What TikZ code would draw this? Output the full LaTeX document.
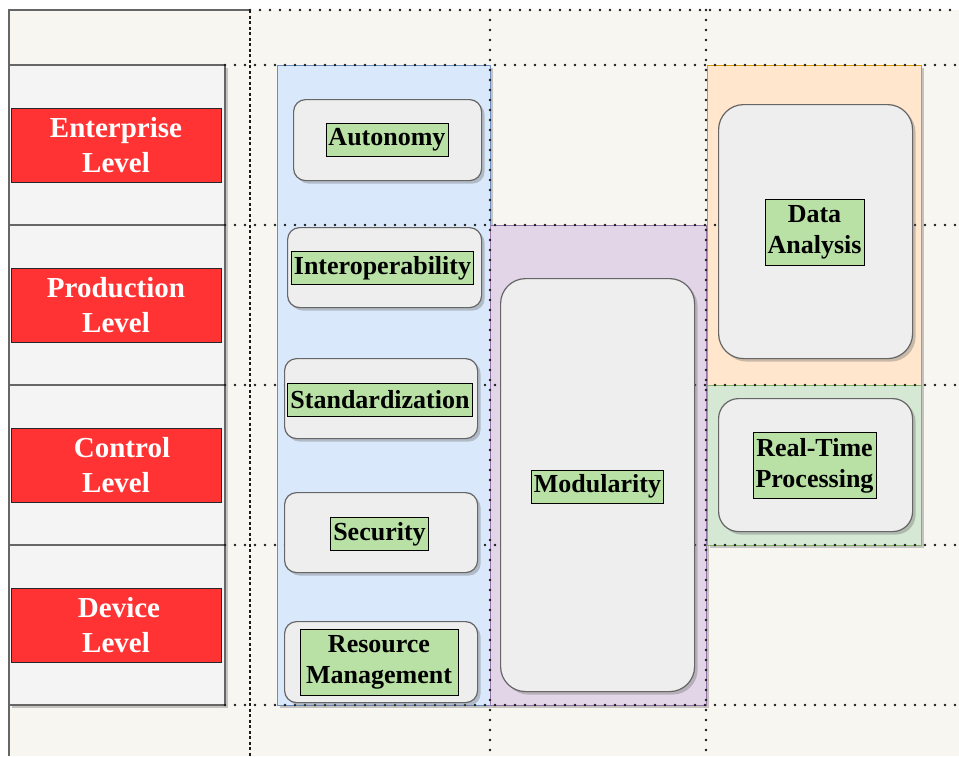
\documentclass[tikz,border=0pt]{standalone}
\usepackage{fontspec}
\setmainfont{Liberation Serif}
\usetikzlibrary{shadows}

\definecolor{cream}{HTML}{F8F6F0}
\definecolor{lanefill}{HTML}{F4F4F4}
\definecolor{lanedraw}{HTML}{666666}
\definecolor{lvlred}{HTML}{FF3333}
\definecolor{bluefill}{HTML}{DAE8FC}
\definecolor{bluedraw}{HTML}{6C8EBF}
\definecolor{purpfill}{HTML}{E1D5E7}
\definecolor{purpdraw}{HTML}{9673A6}
\definecolor{orfill}{HTML}{FFE6CC}
\definecolor{ordraw}{HTML}{D79B00}
\definecolor{grfill}{HTML}{D5E8D4}
\definecolor{grdraw}{HTML}{82B366}
\definecolor{boxfill}{HTML}{EEEEEE}
\definecolor{labfill}{HTML}{B9E0A5}
\definecolor{dotcol}{HTML}{1A1A1A}

\tikzset{
  shade3/.style={drop shadow={shadow xshift=3pt, shadow yshift=-3pt, opacity=0.35, fill=black!60}},
  lane/.style={shade3, fill=lanefill, draw=lanedraw, line width=1.2pt},
  region/.style={shade3, line width=1pt},
  gridline/.style={dotcol, line width=2.8pt, line cap=round, dash pattern=on 0pt off 10pt},
  dashline/.style={dotcol, line width=1.6pt, dash pattern=on 3pt off 2.5pt},
  lvl/.style={fill=lvlred, draw=black!85, line width=1pt, text=white, align=center,
              minimum width=210, minimum height=74,
              font=\fontsize{29}{35}\selectfont\bfseries},
  rbox/.style={shade3, fill=boxfill, draw=lanedraw, line width=1.2pt, anchor=north west},
  lab/.style={fill=labfill, draw=black, line width=0.9pt, align=center,
              inner xsep=2.5pt, inner ysep=2pt, minimum height=33,
              font=\fontsize{26}{31}\selectfont\bfseries},
  lab2/.style={lab, minimum height=66}
}

\begin{document}
\begin{tikzpicture}[x=1pt,y=-1pt]
\useasboundingbox (0,0) rectangle (959,756);
\fill[white] (0,0) rectangle (959,756);
\fill[cream] (9,10) rectangle (959,756);

% outer frame of the lanes
\draw[lanedraw, line width=1.6pt] (9,756) -- (9,10) -- (250,10);

% level lanes
\foreach \t in {65,225,385,545}{
  \path[lane] (9,\t) rectangle (225,\t+160);
}

% coloured groups
\path[region, fill=bluefill, draw=bluedraw] (277,65) rectangle (490,705);
\path[region, fill=purpfill, draw=purpdraw] (490,225) rectangle (706,705);
\path[region, fill=orfill, draw=ordraw] (707,65) rectangle (921,385);
\path[region, fill=grfill, draw=grdraw] (707,385) rectangle (921,545);

% grid lines
\draw[gridline] (250,10) -- (959,10);
\foreach \y in {65,225,385,545,705}{
  \draw[gridline] (225,\y) -- (959,\y);
}
\draw[gridline] (490,10) -- (490,756);
\draw[gridline] (706,10) -- (706,756);
\draw[dashline] (250,10) -- (250,756);

% level labels
\node[lvl] (ent) at (116,145) {Enterprise\\Level};
\node[lvl] (prod) at (116,305) {Production\\Level};
\node[lvl] (ctrl) at (116,465) {\hspace*{12pt}Control\\Level};
\node[lvl] (dev) at (116,625) {\hspace*{6pt}Device\\Level};

% capability boxes
\node[rbox, rounded corners=12pt, minimum width=188, minimum height=81] (b1) at (293,99) {};
\node[rbox, rounded corners=12pt, minimum width=194, minimum height=80] (b2) at (287,227) {};
\node[rbox, rounded corners=12pt, minimum width=193, minimum height=80] (b3) at (284,358) {};
\node[rbox, rounded corners=12pt, minimum width=193, minimum height=80] (b4) at (284,492) {};
\node[rbox, rounded corners=12pt, minimum width=193, minimum height=81] (b5) at (284,621) {};
\node[rbox, rounded corners=25pt, minimum width=194, minimum height=413] (b6) at (500,278) {};
\node[rbox, rounded corners=25pt, minimum width=194, minimum height=254] (b7) at (718,104) {};
\node[rbox, rounded corners=20pt, minimum width=194, minimum height=133] (b8) at (718,398) {};

% capability names
\node[lab] (l1) at (387,140) {Autonomy};
\node[lab] (l2) at (382.5,268) {Interoperability};
\node[lab] (l3) at (380,399.5) {Standardization};
\node[lab] (l4) at (379.5,534) {Security};
\node[lab2, minimum width=158] (l5) at (379,662) {Resource\\Management};
\node[lab] (l6) at (597.5,486.5) {Modularity};
\node[lab2] (l7) at (814.5,232) {Data\\Analysis};
\node[lab2] (l8) at (814.5,465.5) {Real-Time\\Processing};
\end{tikzpicture}
\end{document}
